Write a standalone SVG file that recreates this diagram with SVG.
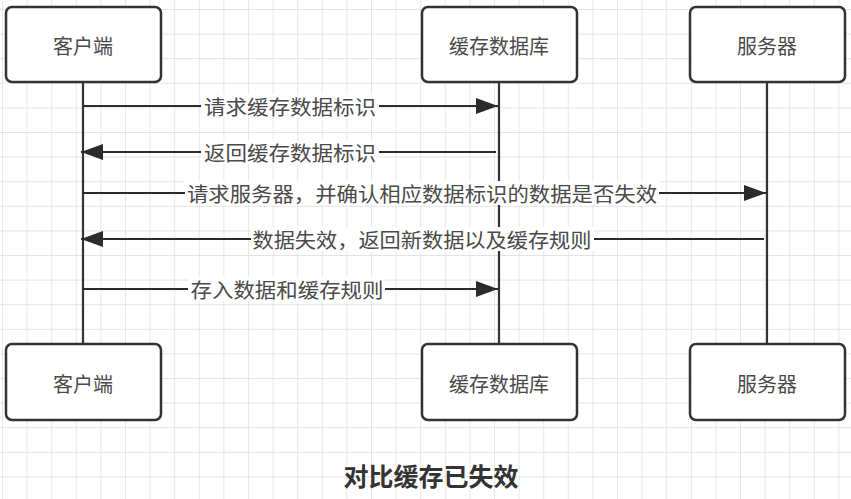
<svg xmlns="http://www.w3.org/2000/svg" width="851" height="499" viewBox="0 0 851 499">
<defs>
<pattern id="grid" x="2" y="9" width="24.6" height="24.6" patternUnits="userSpaceOnUse">
<path d="M0,0 H24.6 M0,0 V24.6" fill="none" stroke="#dcdcdc" stroke-width="1.3"/>
</pattern>
<marker id="arr" markerUnits="userSpaceOnUse" markerWidth="24" markerHeight="18" refX="22" refY="8" orient="auto">
<path d="M0,0 L22,8 L0,16 Z" fill="#2b2b2b"/>
</marker>
<style>
.box{fill:#fff;stroke:#333;stroke-width:2.5}
.life{stroke:#333;stroke-width:2.2;fill:none}
.msg{stroke:#2b2b2b;stroke-width:2;fill:none;marker-end:url(#arr)}
.t{font-family:"Microsoft YaHei","Noto Sans CJK SC",sans-serif;font-size:20px;fill:#4a4a4a;text-anchor:middle;dominant-baseline:central}
.lb{fill:#fff}
.title{font-family:"Microsoft YaHei","Noto Sans CJK SC",sans-serif;font-size:25px;font-weight:bold;fill:#333;text-anchor:middle;dominant-baseline:central}
</style>
</defs>
<rect width="851" height="499" fill="#fff"/>
<rect width="851" height="499" fill="url(#grid)"/>
<g id="lifelines">
<line class="life" x1="83" y1="82" x2="83" y2="344"/>
<line class="life" x1="499" y1="82" x2="499" y2="344"/>
<line class="life" x1="767" y1="82" x2="767" y2="344"/>
</g>
<g id="connectors">
<line class="msg" x1="83" y1="106" x2="498" y2="106"/>
<rect class="lb" x="201" y="94" width="178" height="24"/>
<text class="t" x="290" y="106" textLength="172" lengthAdjust="spacingAndGlyphs">请求缓存数据标识</text>
<line class="msg" x1="496" y1="152" x2="81" y2="152"/>
<rect class="lb" x="201" y="140" width="178" height="24"/>
<text class="t" x="290" y="152" textLength="172" lengthAdjust="spacingAndGlyphs">返回缓存数据标识</text>
<line class="msg" x1="83" y1="193" x2="766" y2="193"/>
<rect class="lb" x="185" y="181" width="474" height="24"/>
<text class="t" x="422" y="193" textLength="470" lengthAdjust="spacingAndGlyphs">请求服务器，并确认相应数据标识的数据是否失效</text>
<line class="msg" x1="764" y1="239" x2="81" y2="239"/>
<rect class="lb" x="251" y="227" width="343" height="24"/>
<text class="t" x="422" y="239" textLength="339" lengthAdjust="spacingAndGlyphs">数据失效，返回新数据以及缓存规则</text>
<line class="msg" x1="83" y1="289" x2="498" y2="289"/>
<rect class="lb" x="188" y="277" width="197" height="24"/>
<text class="t" x="287" y="289" textLength="193" lengthAdjust="spacingAndGlyphs">存入数据和缓存规则</text>
</g>
<g id="client-top"><rect class="box" x="6" y="7" width="155" height="75" rx="6"/><text class="t" x="83" y="45">客户端</text></g>
<g id="cache-top"><rect class="box" x="422" y="7" width="155" height="75" rx="6"/><text class="t" x="499" y="45">缓存数据库</text></g>
<g id="server-top"><rect class="box" x="690" y="7" width="155" height="75" rx="6"/><text class="t" x="767" y="45">服务器</text></g>
<g id="client-bottom"><rect class="box" x="6" y="344" width="155" height="76" rx="6"/><text class="t" x="83" y="383">客户端</text></g>
<g id="cache-bottom"><rect class="box" x="422" y="344" width="155" height="76" rx="6"/><text class="t" x="499" y="383">缓存数据库</text></g>
<g id="server-bottom"><rect class="box" x="690" y="344" width="155" height="76" rx="6"/><text class="t" x="767" y="383">服务器</text></g>
<text class="title" x="431" y="475">对比缓存已失效</text>
</svg>
